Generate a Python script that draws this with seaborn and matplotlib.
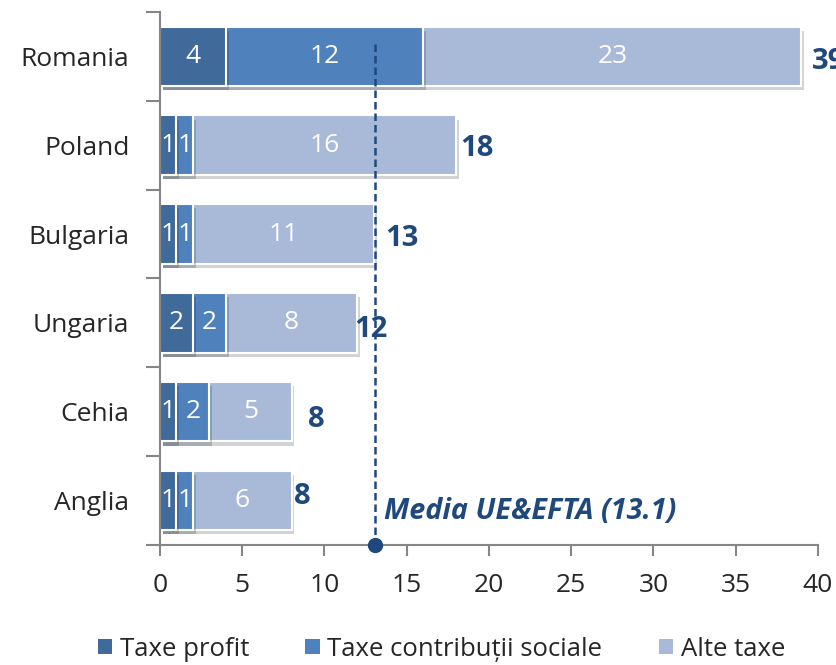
import numpy as np
import pandas as pd
import matplotlib
matplotlib.use("Agg")
import matplotlib.pyplot as plt
import matplotlib.patheffects as pe
from matplotlib.patches import Patch
import seaborn as sns

countries = ["Romania", "Poland", "Bulgaria", "Ungaria", "Cehia", "Anglia"]
taxe_profit = [4, 1, 1, 2, 1, 1]
taxe_contrib = [12, 1, 1, 2, 2, 1]
alte_taxe = [23, 16, 11, 8, 5, 6]
totals = [39, 18, 13, 12, 8, 8]
series_names = ["Taxe profit", "Taxe contribuții sociale", "Alte taxe"]
media = 13.1
media_label = "Media UE&EFTA (13.1)"

# label nudges (pixels) for the total labels, as placed in the source
total_dx = [10, 4, 11, -3, 16, 2]
total_dy = [-5, -3, -4, -7, -8, 4]

colors = ["#3F6A9A", "#4F81BD", "#A9BAD9"]
dark_text = "#1F497D"

sns.set_theme(style="white")
plt.rcParams["font.family"] = ["Open Sans", "DejaVu Sans"]

df = pd.DataFrame({"country": countries, "p": taxe_profit,
                   "c": taxe_contrib, "a": alte_taxe})
df["s1"] = df["p"]
df["s2"] = df["p"] + df["c"]
df["s3"] = df["s2"] + df["a"]

fig = plt.figure(figsize=(8.36, 6.65), dpi=100)
ax = fig.add_axes([0.1914, 0.1805, 0.787, 0.8015])

shadow = [pe.SimplePatchShadow(offset=(2, -3), alpha=0.22), pe.Normal()]
for col, c in zip(["s3", "s2", "s1"], colors[::-1]):
    sns.barplot(data=df, x=col, y="country", order=countries, orient="h",
                color=c, saturation=1, width=0.67, edgecolor="white",
                linewidth=1.5, ax=ax)
for p in ax.patches:
    p.set_path_effects(shadow)

# segment labels
for i in range(len(countries)):
    starts = [0, df["s1"][i], df["s2"][i]]
    vals = [taxe_profit[i], taxe_contrib[i], alte_taxe[i]]
    for s, v in zip(starts, vals):
        ax.text(s + v / 2, i, str(v), ha="center", va="center",
                color="white", fontsize=19)
    ax.annotate(str(totals[i]), (totals[i], i), xytext=(total_dx[i], total_dy[i]),
                textcoords="offset pixels", ha="left", va="center",
                color=dark_text, fontsize=21, fontweight="bold",
                annotation_clip=False)

# average line
ax.plot([media, media], [-0.135, 5.5], color=dark_text, lw=1.8,
        linestyle=(0, (3, 1.6)), clip_on=False, zorder=5)
ax.plot([media], [5.5], "o", color=dark_text, markersize=10, clip_on=False, zorder=6)
ax.annotate(media_label, (media, 5.5), xytext=(9, 33), textcoords="offset pixels",
            ha="left", va="center", color=dark_text, fontsize=20.7,
            fontweight="bold", fontstyle="italic")

ax.set_xlim(0, 40)
ax.set_ylim(5.5, -0.5)
ax.set_xticks(np.arange(0, 41, 5))
ax.set_xlabel("")
ax.set_ylabel("")
ax.tick_params(axis="x", labelsize=19, length=8, width=1.5, color="#868686",
               direction="out", bottom=True, pad=12)
ax.tick_params(axis="y", labelsize=19, length=0, pad=22)
ax.set_yticks(np.arange(-0.5, 6, 1), minor=True)
ax.tick_params(axis="y", which="minor", length=10, width=1.5, color="#868686",
               direction="out", left=True)
for s in ["top", "right"]:
    ax.spines[s].set_visible(False)
for s in ["left", "bottom"]:
    ax.spines[s].set_color("#868686")
    ax.spines[s].set_linewidth(1.5)

handles = [Patch(facecolor=c, edgecolor="none") for c in colors]
fig.legend(handles, series_names, loc="center", bbox_to_anchor=(0.528, 0.024),
           ncol=3, frameon=False, fontsize=18.5, handlelength=0.55,
           handleheight=0.55, handletextpad=0.3, columnspacing=2.2)

fig.savefig("out.png", dpi=100)
